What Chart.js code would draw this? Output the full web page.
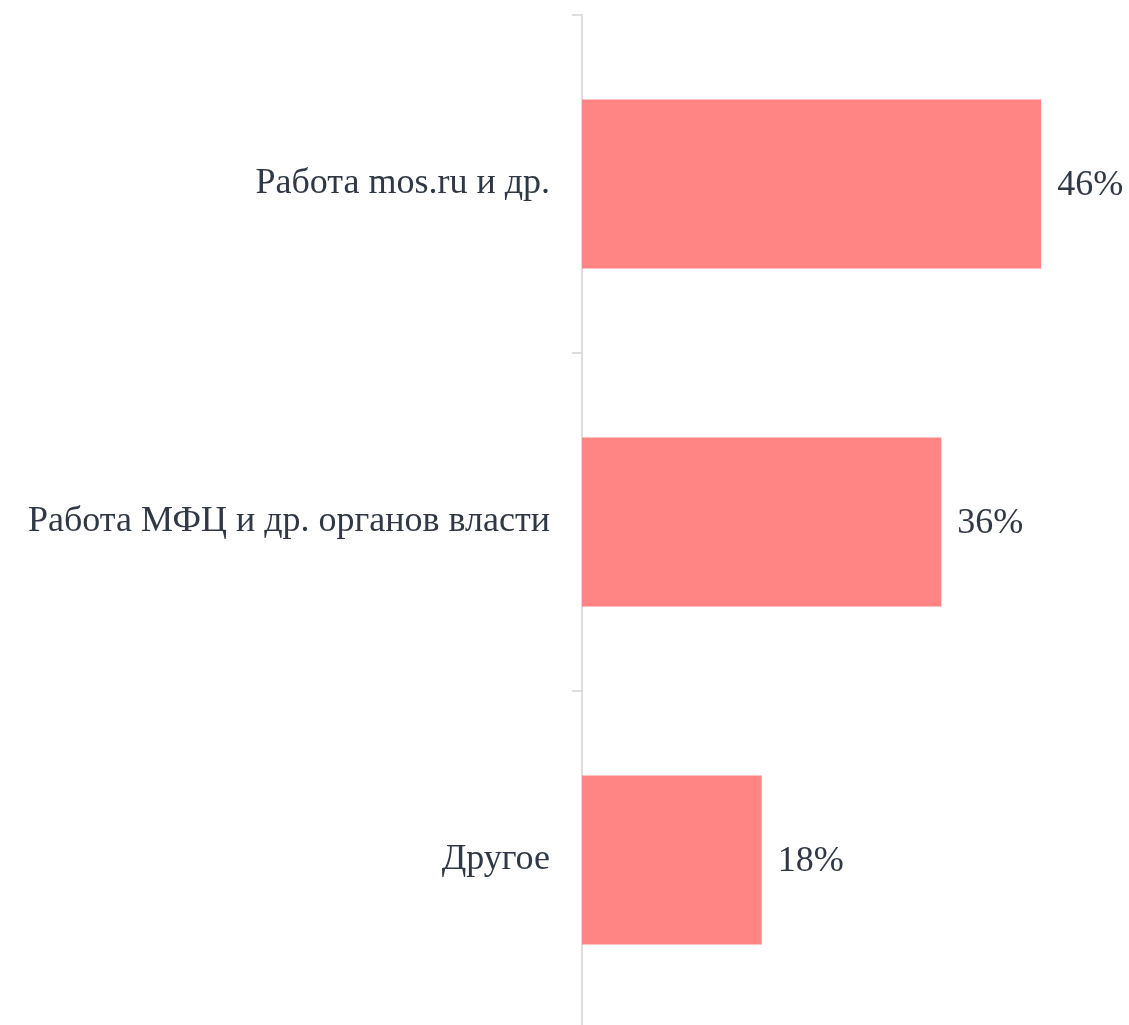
<!DOCTYPE html>
<html>
<head>
<meta charset="utf-8">
<script src="https://cdn.jsdelivr.net/npm/chart.js@4"></script>
<style>
  html, body { margin: 0; padding: 0; background: #fff; overflow: hidden; }
  #wrap { width: 1129px; height: 1029px; }
</style>
</head>
<body>
<div id="wrap"><canvas id="chart"></canvas></div>
<script>
// Data
const categories = ['Работа mos.ru и др.', 'Работа МФЦ и др. органов власти', 'Другое'];
const values = [46, 36, 18];

const textColor = '#2f3844';
const fontFamily = '"Liberation Serif", "DejaVu Serif", serif';

// value labels next to the bars
const valueLabels = {
    id: 'valueLabels',
    afterDatasetsDraw(chart) {
        const ctx = chart.ctx;
        const meta = chart.getDatasetMeta(0);
        ctx.save();
        ctx.font = '36px ' + fontFamily;
        ctx.fillStyle = textColor;
        ctx.textAlign = 'left';
        ctx.textBaseline = 'middle';
        meta.data.forEach((bar, i) => {
            ctx.fillText(values[i] + '%', bar.x + 16, bar.y + 2);
        });
        ctx.restore();
    }
};

const ctx = document.getElementById('chart');
new Chart(ctx, {
    type: 'bar',
    data: {
        labels: categories,
        datasets: [{
            data: values,
            backgroundColor: '#ff8585',
            borderWidth: 0,
            barPercentage: 0.5,
            categoryPercentage: 1
        }]
    },
    options: {
        indexAxis: 'y',
        responsive: true,
        maintainAspectRatio: false,
        animation: false,
        layout: { padding: { top: 15, right: 0, bottom: 0, left: 0 } },
        plugins: {
            legend: { display: false },
            tooltip: { enabled: false }
        },
        scales: {
            x: {
                display: false,
                min: 0,
                max: 54.8
            },
            y: {
                afterFit(scale) {
                    scale.width = 582;
                    scale.paddingTop = 0;
                    scale.paddingBottom = 0;
                },
                grid: {
                    drawOnChartArea: false,
                    tickLength: 10,
                    lineWidth: 2,
                    color: '#dddddd',
                    offset: true
                },
                border: { color: '#dddddd', width: 2 },
                ticks: {
                    color: textColor,
                    padding: 22,
                    font: { family: fontFamily, size: 36 }
                }
            }
        }
    },
    plugins: [valueLabels]
});
</script>
</body>
</html>
